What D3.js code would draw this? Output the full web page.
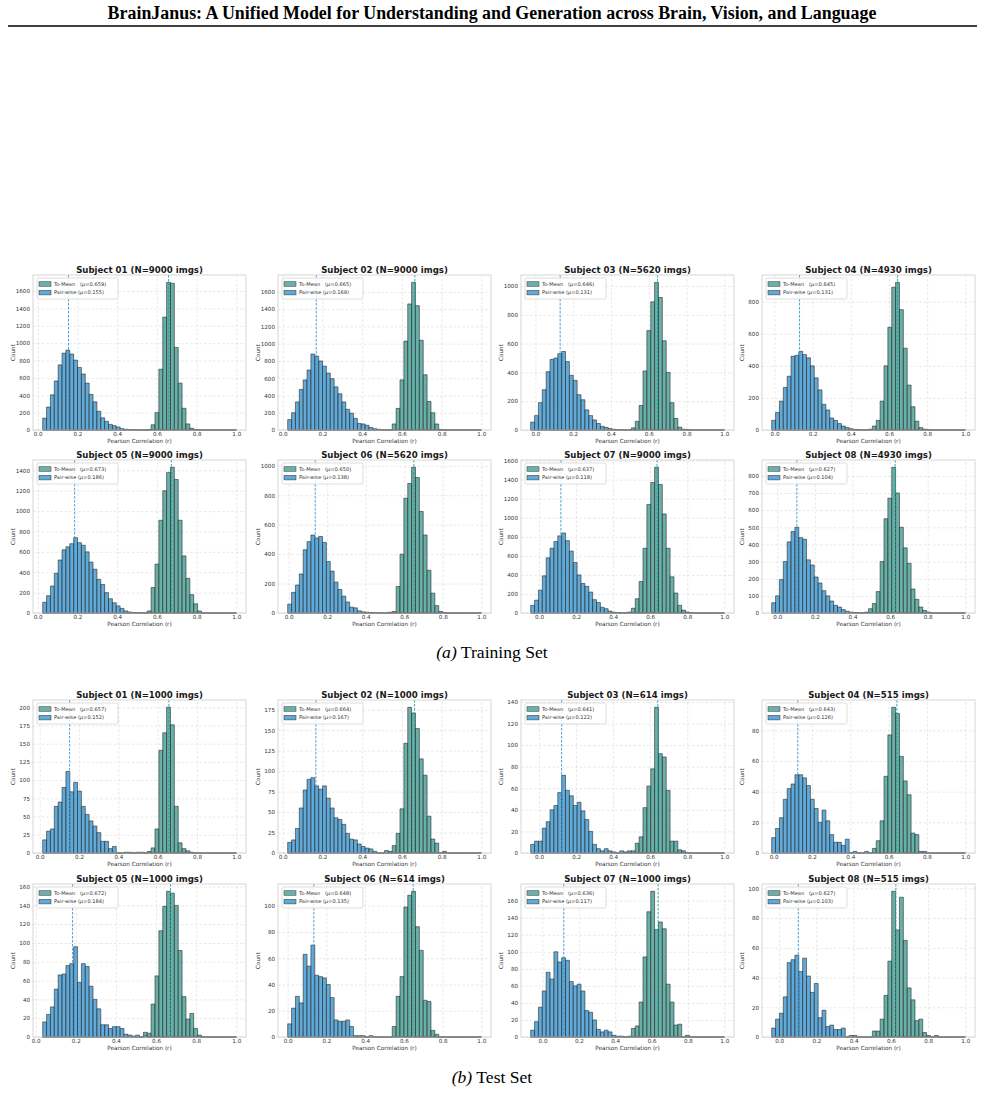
<!DOCTYPE html>
<html>
<head>
<meta charset="utf-8">
<script src="https://cdn.jsdelivr.net/npm/d3@7"></script>
<style>
  body { margin: 0; background: #fff; }
  svg text { font-family: "DejaVu Sans", sans-serif; }
</style>
</head>
<body>
<svg id="fig" width="985" height="1093"></svg>
<script>
// ---- data ----
const nBins = 50;
const xTicks = [0, 0.2, 0.4, 0.6, 0.8, 1.0];
const subjects = ["01", "02", "03", "04", "05", "06", "07", "08"];

// training set
const trainN = [9000, 9000, 5620, 4930, 9000, 5620, 9000, 4930];
const trainMeanTo = [0.659, 0.665, 0.646, 0.645, 0.673, 0.650, 0.637, 0.627];
const trainMeanPair = [0.155, 0.169, 0.131, 0.131, 0.186, 0.138, 0.118, 0.104];
const trainLo = [0.025, 0.025, -0.025, -0.015, 0.025, -0.005, -0.045, -0.03];
const trainPair = [
  [137, 265, 405, 565, 750, 885, 920, 875, 805, 720, 645, 540, 410, 325, 215, 140, 100, 65, 50, 35, 15, 8, 5, 3, 2, 1],
  [120, 200, 325, 470, 580, 695, 880, 855, 800, 740, 660, 595, 500, 420, 325, 240, 195, 135, 75, 70, 55, 30, 15, 8, 3, 1],
  [55, 100, 190, 280, 405, 490, 500, 530, 545, 475, 380, 345, 245, 210, 140, 100, 70, 45, 25, 18, 10, 5, 3, 1],
  [60, 110, 180, 265, 335, 460, 465, 490, 470, 450, 400, 325, 250, 160, 125, 75, 60, 40, 25, 15, 8, 4, 2, 1],
  [105, 170, 265, 390, 520, 620, 650, 680, 740, 690, 665, 600, 500, 430, 330, 280, 200, 140, 100, 70, 45, 20, 10, 5, 3, 2],
  [60, 140, 190, 265, 430, 485, 530, 510, 520, 480, 350, 285, 210, 160, 115, 75, 40, 35, 15, 8, 5, 3, 2, 1],
  [80, 135, 240, 390, 580, 680, 750, 810, 840, 760, 650, 530, 400, 310, 280, 220, 140, 110, 60, 45, 20, 8, 5, 3, 2, 1],
  [60, 100, 195, 300, 415, 475, 500, 440, 430, 310, 280, 210, 175, 130, 100, 70, 45, 35, 20, 10, 5, 3, 2, 1]
];
const trainToStart = [27, 27, 26, 25, 27, 26, 25, 24];
const trainTo = [
  [5, 60, 200, 700, 1300, 1700, 1690, 950, 540, 250, 70, 20, 5, 2],
  [70, 250, 580, 1030, 1460, 1710, 1440, 1040, 640, 330, 200, 70, 5, 2],
  [15, 60, 170, 410, 690, 890, 1025, 920, 620, 400, 190, 80, 20, 5, 2],
  [5, 25, 60, 180, 400, 640, 890, 920, 750, 510, 280, 145, 55, 15, 5, 2],
  [20, 250, 480, 910, 1200, 1380, 1430, 1310, 910, 560, 340, 180, 90, 20],
  [5, 10, 180, 400, 780, 880, 990, 920, 690, 530, 290, 135, 50, 10, 3],
  [10, 50, 150, 330, 680, 1140, 1370, 1530, 1350, 1040, 680, 380, 210, 80, 30, 10, 3],
  [5, 25, 55, 125, 300, 550, 670, 850, 700, 500, 380, 290, 140, 80, 35, 15, 5]
];
const trainYTicks = [
  [0, 200, 400, 600, 800, 1000, 1200, 1400, 1600],
  [0, 200, 400, 600, 800, 1000, 1200, 1400, 1600],
  [0, 200, 400, 600, 800, 1000],
  [0, 200, 400, 600, 800],
  [0, 200, 400, 600, 800, 1000, 1200, 1400],
  [0, 200, 400, 600, 800, 1000],
  [0, 200, 400, 600, 800, 1000, 1200, 1400, 1600],
  [0, 100, 200, 300, 400, 500, 600, 700, 800]
];

// test set
const testN = [1000, 1000, 614, 515, 1000, 614, 1000, 515];
const testMeanTo = [0.657, 0.664, 0.641, 0.643, 0.672, 0.648, 0.636, 0.627];
const testMeanPair = [0.152, 0.167, 0.122, 0.126, 0.184, 0.135, 0.117, 0.103];
const testLo = [0.015, 0.025, -0.045, -0.01, 0.035, 0.0, -0.065, -0.04];
const testPair = [
  [18, 30, 33, 64, 70, 90, 112, 84, 97, 85, 64, 53, 44, 37, 28, 16, 16, 6, 9, 0, 0, 1, 1, 0, 1, 1],
  [13, 16, 30, 55, 77, 90, 92, 82, 78, 82, 67, 55, 43, 41, 35, 24, 17, 16, 11, 8, 6, 5, 2, 0, 0, 3],
  [8, 11, 11, 23, 29, 40, 44, 56, 72, 58, 53, 44, 47, 39, 31, 20, 8, 4, 2, 4, 2, 1, 0, 2],
  [10, 16, 23, 35, 42, 45, 51, 51, 49, 44, 35, 29, 20, 28, 21, 12, 7, 7, 5, 9, 0, 1, 0, 0, 1],
  [16, 24, 32, 51, 66, 67, 76, 78, 96, 58, 78, 75, 54, 40, 30, 13, 13, 9, 11, 11, 9, 3, 2, 1, 2, 0, 1],
  [10, 22, 31, 26, 63, 54, 70, 47, 46, 45, 40, 30, 13, 12, 12, 13, 8, 1, 1, 1, 0, 1],
  [8, 18, 35, 54, 76, 68, 100, 88, 93, 90, 65, 60, 62, 54, 31, 29, 20, 9, 6, 8, 6, 2, 1, 1, 0, 1],
  [6, 12, 16, 27, 50, 52, 55, 44, 53, 41, 30, 36, 13, 18, 7, 8, 5, 5, 6, 0, 1, 1]
];
const testToStart = [27, 26, 24, 26, 26, 27, 26, 26];
const testTo = [
  [2, 7, 33, 141, 165, 200, 176, 64, 14, 6, 3, 1],
  [2, 9, 24, 54, 134, 178, 171, 152, 115, 95, 45, 17, 12, 0, 2],
  [1, 2, 2, 9, 15, 42, 62, 78, 135, 92, 89, 58, 11, 11, 3, 2],
  [3, 8, 21, 50, 77, 95, 91, 63, 47, 38, 13, 12, 1, 1],
  [5, 4, 35, 65, 113, 139, 155, 153, 140, 92, 43, 19, 25, 9, 2],
  [8, 31, 46, 99, 108, 111, 84, 66, 28, 27, 5, 2],
  [10, 13, 41, 94, 147, 171, 126, 135, 127, 62, 41, 14, 15, 0, 2],
  [4, 4, 12, 28, 51, 98, 72, 94, 65, 33, 25, 11, 12, 3, 1, 0, 1]
];
const testYTicks = [
  [0, 25, 50, 75, 100, 125, 150, 175, 200],
  [0, 25, 50, 75, 100, 125, 150, 175],
  [0, 20, 40, 60, 80, 100, 120, 140],
  [0, 20, 40, 60, 80],
  [0, 20, 40, 60, 80, 100, 120, 140, 160],
  [0, 20, 40, 60, 80, 100],
  [0, 20, 40, 60, 80, 100, 120, 140, 160],
  [0, 20, 40, 60, 80, 100]
];

// ---- layout ----
const colLeft = [33, 278, 521, 762];
const axW = 213;
const trainRows = [{top: 275, h: 155}, {top: 460, h: 153}];
const testRows = [{top: 700, h: 153}, {top: 884, h: 153}];
const tealFill = "#54a59d", blueFill = "#4b9dd0";
const tealLine = "#22a39a", blueLine = "#3598db";

const svg = d3.select("#fig");

// page header
svg.append("text")
  .attr("x", 492).attr("y", 19)
  .attr("text-anchor", "middle")
  .style("font-family", "'Liberation Serif', 'Times New Roman', serif")
  .style("font-weight", "bold")
  .style("font-size", "17.9px")
  .text("BrainJanus: A Unified Model for Understanding and Generation across Brain, Vision, and Language");
svg.append("line")
  .attr("x1", 8).attr("x2", 977).attr("y1", 26).attr("y2", 26)
  .attr("stroke", "#000").attr("stroke-width", 1.6);

function drawPanel(left, top, h, d) {
  const g = svg.append("g").attr("transform", `translate(${left},${top})`);
  const span = 1 - d.lo;
  const w = span / nBins;
  const x = d3.scaleLinear().domain([d.lo - 0.05 * span, 1 + 0.05 * span]).range([0, axW]);
  const pairFull = d3.range(nBins).map(i => d.pair[i] || 0);
  const toFull = d3.range(nBins).map(i => d.to[i - d.toStart] || 0);
  const y = d3.scaleLinear().domain([0, d3.max(pairFull.concat(toFull)) * 1.05]).range([h, 0]);

  // grid + tick labels
  const xa = g.append("g").attr("transform", `translate(0,${h})`)
    .call(d3.axisBottom(x).tickValues(xTicks).tickFormat(d3.format(".1f")).tickSize(-h).tickPadding(2.5));
  const ya = g.append("g")
    .call(d3.axisLeft(y).tickValues(d.yTicks).tickFormat(d3.format("d")).tickSize(-axW).tickPadding(3));
  [xa, ya].forEach(a => {
    a.select(".domain").remove();
    a.selectAll("line").attr("stroke", "#d9d9d9").attr("stroke-width", 0.6).attr("stroke-dasharray", "2.5,2");
    a.selectAll("text").attr("font-size", 5.6).attr("fill", "#333");
  });

  const barPath = (c, i) => {
    const x0 = x(d.lo + i * w), x1 = x(d.lo + (i + 1) * w);
    return `M${x0},${y(0)}V${y(c)}H${x1}V${y(0)}Z`;
  };
  function bars(data, fill) {
    g.append("g").selectAll("path").data(data).join("path")
      .attr("d", barPath)
      .attr("fill", fill).attr("fill-opacity", 0.88)
      .attr("stroke", "#1e1e1e").attr("stroke-opacity", 0.72).attr("stroke-width", 0.75);
  }
  bars(toFull, tealFill);
  bars(pairFull, blueFill);

  // mean lines
  [[d.meanPair, blueLine], [d.meanTo, tealLine]].forEach(([m, c]) => {
    g.append("line")
      .attr("x1", x(m)).attr("x2", x(m)).attr("y1", 0).attr("y2", h)
      .attr("stroke", c).attr("stroke-width", 0.9).attr("stroke-dasharray", "2.6,1.4");
  });

  // frame
  g.append("rect").attr("width", axW).attr("height", h)
    .attr("fill", "none").attr("stroke", "#cccccc").attr("stroke-width", 0.8);

  // title and axis labels
  g.append("text").attr("x", axW / 2).attr("y", -2.5).attr("text-anchor", "middle")
    .attr("font-size", 8.6).attr("font-weight", "bold").attr("fill", "#1a1a1a")
    .text(`Subject ${d.subject} (N=${d.n} imgs)`);
  g.append("text").attr("x", axW / 2).attr("y", h + 11.5).attr("dy", "0.35em").attr("text-anchor", "middle")
    .attr("font-size", 5.7).attr("fill", "#333")
    .text("Pearson Correlation (r)");
  g.append("text").attr("transform", `translate(-20,${h / 2}) rotate(-90)`).attr("dy", "0.35em")
    .attr("text-anchor", "middle").attr("font-size", 5.7).attr("fill", "#333")
    .text("Count");

  // legend
  const lg = g.append("g").attr("transform", "translate(4,3)");
  lg.append("rect").attr("width", 81).attr("height", 21).attr("rx", 1.5)
    .attr("fill", "#fff").attr("fill-opacity", 0.85).attr("stroke", "#cfcfcf").attr("stroke-width", 0.7);
  const items = [["To-Mean\u00a0\u00a0\u00a0(", d.meanTo, tealFill], ["Pair-wise (", d.meanPair, blueFill]];
  items.forEach(([lab, m, c], k) => {
    const cy = 6 + k * 8.6;
    lg.append("rect").attr("x", 2).attr("y", cy - 2.3).attr("width", 12).attr("height", 4.6)
      .attr("fill", c).attr("fill-opacity", 0.88).attr("stroke", "#1e1e1e").attr("stroke-opacity", 0.72).attr("stroke-width", 0.6);
    const t = lg.append("text").attr("x", 17).attr("y", cy).attr("dy", "0.35em")
      .attr("font-size", 5.1).attr("fill", "#333");
    t.append("tspan").text(lab);
    t.append("tspan").attr("font-style", "italic").text("\u03bc");
    t.append("tspan").text(`=${d3.format(".3f")(m)})`);
  });
}

function drawSet(rows, N, meanTo, meanPair, lo, pair, toStart, to, yTicks) {
  subjects.forEach((s, i) => {
    const r = rows[Math.floor(i / 4)];
    drawPanel(colLeft[i % 4], r.top, r.h, {
      subject: s, n: N[i], meanTo: meanTo[i], meanPair: meanPair[i], lo: lo[i],
      pair: pair[i], toStart: toStart[i], to: to[i], yTicks: yTicks[i]
    });
  });
}

drawSet(trainRows, trainN, trainMeanTo, trainMeanPair, trainLo, trainPair, trainToStart, trainTo, trainYTicks);
drawSet(testRows, testN, testMeanTo, testMeanPair, testLo, testPair, testToStart, testTo, testYTicks);

// captions
function caption(yPos, tag, rest) {
  const t = svg.append("text").attr("x", 492).attr("y", yPos).attr("text-anchor", "middle")
    .style("font-family", "'Liberation Serif', 'Times New Roman', serif").style("font-size", "17.6px");
  t.append("tspan").attr("font-style", "italic").text(tag);
  t.append("tspan").text(" " + rest);
}
caption(658, "(a)", "Training Set");
caption(1083, "(b)", "Test Set");
</script>
</body>
</html>
